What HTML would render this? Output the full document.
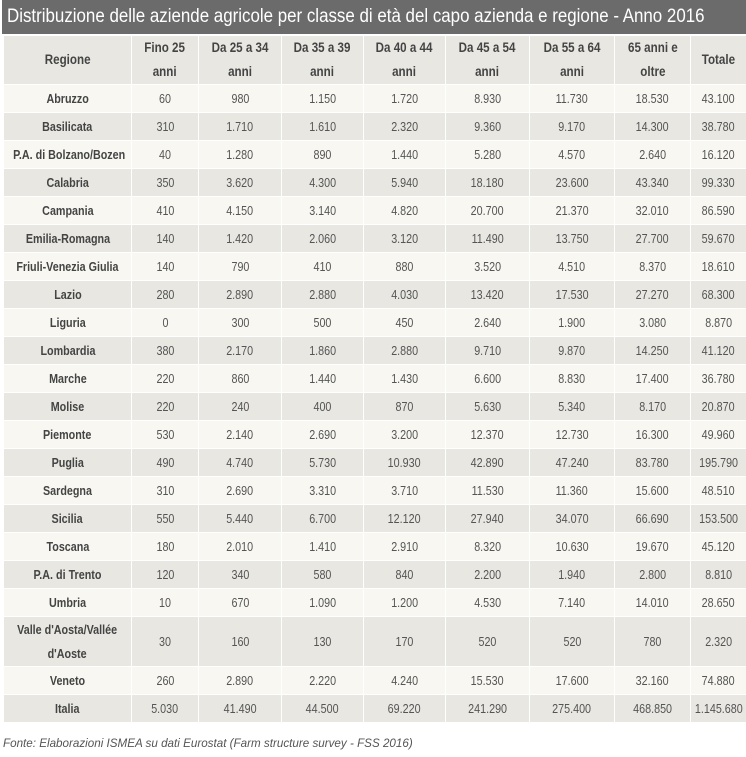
<!DOCTYPE html>
<html><head><meta charset="utf-8"><style>
body{margin:0;width:746px;height:757px;background:#fff;font-family:"Liberation Sans",sans-serif;overflow:hidden}
.title{position:absolute;left:2px;top:0;width:744px;height:34px;background:#6b6b6b;color:#fff;font-size:19px;line-height:34px;white-space:nowrap;overflow:hidden}
.title span{display:inline-block;transform:scaleX(.89);transform-origin:left center;margin-left:5px}
table{position:absolute;left:3px;top:35px;border-collapse:collapse;table-layout:fixed;width:743px}
td{border:1px solid #fff;text-align:center;font-size:12.5px;color:#555;padding:0;height:27px;background:#e8e7e2;white-space:nowrap;overflow:visible}
tr:nth-child(even) td{background:#f8f7f2}
td span{display:inline-block;transform:scaleX(.86);white-space:nowrap}
td:first-child{font-weight:bold;color:#444}
tr.h td{background:#e8e7e2;font-weight:bold;color:#444;font-size:13.5px;height:48px;line-height:24px}
tr.v td{height:49px;line-height:24px}
.f{position:absolute;left:3px;top:736px;font-style:italic;font-size:12px;color:#555;white-space:nowrap;transform:scaleX(.97);transform-origin:left center}
</style></head><body>
<div class="title"><span>Distribuzione delle aziende agricole per classe di età del capo azienda e regione - Anno 2016</span></div>
<table>
<colgroup><col style="width:128px"><col style="width:67px"><col style="width:83px"><col style="width:82px"><col style="width:82px"><col style="width:84px"><col style="width:85px"><col style="width:76px"><col style="width:56px"></colgroup>
<tr class="h"><td><span>Regione</span></td><td><span>Fino 25<br>anni</span></td><td><span>Da 25 a 34<br>anni</span></td><td><span>Da 35 a 39<br>anni</span></td><td><span>Da 40 a 44<br>anni</span></td><td><span>Da 45 a 54<br>anni</span></td><td><span>Da 55 a 64<br>anni</span></td><td><span>65 anni e<br>oltre</span></td><td><span>Totale</span></td></tr>
<tr><td><span>Abruzzo</span></td><td><span>60</span></td><td><span>980</span></td><td><span>1.150</span></td><td><span>1.720</span></td><td><span>8.930</span></td><td><span>11.730</span></td><td><span>18.530</span></td><td><span>43.100</span></td></tr>
<tr><td><span>Basilicata</span></td><td><span>310</span></td><td><span>1.710</span></td><td><span>1.610</span></td><td><span>2.320</span></td><td><span>9.360</span></td><td><span>9.170</span></td><td><span>14.300</span></td><td><span>38.780</span></td></tr>
<tr><td><span>P.A. di Bolzano/Bozen</span></td><td><span>40</span></td><td><span>1.280</span></td><td><span>890</span></td><td><span>1.440</span></td><td><span>5.280</span></td><td><span>4.570</span></td><td><span>2.640</span></td><td><span>16.120</span></td></tr>
<tr><td><span>Calabria</span></td><td><span>350</span></td><td><span>3.620</span></td><td><span>4.300</span></td><td><span>5.940</span></td><td><span>18.180</span></td><td><span>23.600</span></td><td><span>43.340</span></td><td><span>99.330</span></td></tr>
<tr><td><span>Campania</span></td><td><span>410</span></td><td><span>4.150</span></td><td><span>3.140</span></td><td><span>4.820</span></td><td><span>20.700</span></td><td><span>21.370</span></td><td><span>32.010</span></td><td><span>86.590</span></td></tr>
<tr><td><span>Emilia-Romagna</span></td><td><span>140</span></td><td><span>1.420</span></td><td><span>2.060</span></td><td><span>3.120</span></td><td><span>11.490</span></td><td><span>13.750</span></td><td><span>27.700</span></td><td><span>59.670</span></td></tr>
<tr><td><span>Friuli-Venezia Giulia</span></td><td><span>140</span></td><td><span>790</span></td><td><span>410</span></td><td><span>880</span></td><td><span>3.520</span></td><td><span>4.510</span></td><td><span>8.370</span></td><td><span>18.610</span></td></tr>
<tr><td><span>Lazio</span></td><td><span>280</span></td><td><span>2.890</span></td><td><span>2.880</span></td><td><span>4.030</span></td><td><span>13.420</span></td><td><span>17.530</span></td><td><span>27.270</span></td><td><span>68.300</span></td></tr>
<tr><td><span>Liguria</span></td><td><span>0</span></td><td><span>300</span></td><td><span>500</span></td><td><span>450</span></td><td><span>2.640</span></td><td><span>1.900</span></td><td><span>3.080</span></td><td><span>8.870</span></td></tr>
<tr><td><span>Lombardia</span></td><td><span>380</span></td><td><span>2.170</span></td><td><span>1.860</span></td><td><span>2.880</span></td><td><span>9.710</span></td><td><span>9.870</span></td><td><span>14.250</span></td><td><span>41.120</span></td></tr>
<tr><td><span>Marche</span></td><td><span>220</span></td><td><span>860</span></td><td><span>1.440</span></td><td><span>1.430</span></td><td><span>6.600</span></td><td><span>8.830</span></td><td><span>17.400</span></td><td><span>36.780</span></td></tr>
<tr><td><span>Molise</span></td><td><span>220</span></td><td><span>240</span></td><td><span>400</span></td><td><span>870</span></td><td><span>5.630</span></td><td><span>5.340</span></td><td><span>8.170</span></td><td><span>20.870</span></td></tr>
<tr><td><span>Piemonte</span></td><td><span>530</span></td><td><span>2.140</span></td><td><span>2.690</span></td><td><span>3.200</span></td><td><span>12.370</span></td><td><span>12.730</span></td><td><span>16.300</span></td><td><span>49.960</span></td></tr>
<tr><td><span>Puglia</span></td><td><span>490</span></td><td><span>4.740</span></td><td><span>5.730</span></td><td><span>10.930</span></td><td><span>42.890</span></td><td><span>47.240</span></td><td><span>83.780</span></td><td><span>195.790</span></td></tr>
<tr><td><span>Sardegna</span></td><td><span>310</span></td><td><span>2.690</span></td><td><span>3.310</span></td><td><span>3.710</span></td><td><span>11.530</span></td><td><span>11.360</span></td><td><span>15.600</span></td><td><span>48.510</span></td></tr>
<tr><td><span>Sicilia</span></td><td><span>550</span></td><td><span>5.440</span></td><td><span>6.700</span></td><td><span>12.120</span></td><td><span>27.940</span></td><td><span>34.070</span></td><td><span>66.690</span></td><td><span>153.500</span></td></tr>
<tr><td><span>Toscana</span></td><td><span>180</span></td><td><span>2.010</span></td><td><span>1.410</span></td><td><span>2.910</span></td><td><span>8.320</span></td><td><span>10.630</span></td><td><span>19.670</span></td><td><span>45.120</span></td></tr>
<tr><td><span>P.A. di Trento</span></td><td><span>120</span></td><td><span>340</span></td><td><span>580</span></td><td><span>840</span></td><td><span>2.200</span></td><td><span>1.940</span></td><td><span>2.800</span></td><td><span>8.810</span></td></tr>
<tr><td><span>Umbria</span></td><td><span>10</span></td><td><span>670</span></td><td><span>1.090</span></td><td><span>1.200</span></td><td><span>4.530</span></td><td><span>7.140</span></td><td><span>14.010</span></td><td><span>28.650</span></td></tr>
<tr class="v"><td><span>Valle d'Aosta/Vallée<br>d'Aoste</span></td><td><span>30</span></td><td><span>160</span></td><td><span>130</span></td><td><span>170</span></td><td><span>520</span></td><td><span>520</span></td><td><span>780</span></td><td><span>2.320</span></td></tr>
<tr><td><span>Veneto</span></td><td><span>260</span></td><td><span>2.890</span></td><td><span>2.220</span></td><td><span>4.240</span></td><td><span>15.530</span></td><td><span>17.600</span></td><td><span>32.160</span></td><td><span>74.880</span></td></tr>
<tr><td><span>Italia</span></td><td><span>5.030</span></td><td><span>41.490</span></td><td><span>44.500</span></td><td><span>69.220</span></td><td><span>241.290</span></td><td><span>275.400</span></td><td><span>468.850</span></td><td><span>1.145.680</span></td></tr>
</table>
<div class="f">Fonte: Elaborazioni ISMEA su dati Eurostat (Farm structure survey - FSS 2016)</div>
</body></html>
